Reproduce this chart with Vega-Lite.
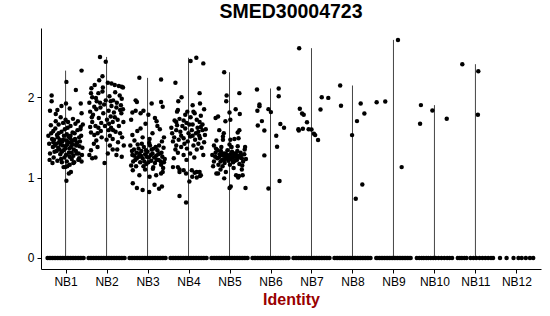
{
"$schema": "https://vega.github.io/schema/vega-lite/v6.json",
"width": 500, "height": 241,
"autosize": {"type": "none"},
"padding": {"left": 41, "top": 28, "right": 9, "bottom": 47},
"background": "white",
"config": {"view": {"stroke": null}, "font": "Liberation Sans"},
"title": {"text": "SMED30004723", "fontSize": 19.5, "fontWeight": "bold", "font": "Liberation Sans", "color": "black", "anchor": "middle", "offset": 6},
"data": {"values": [
{"g":"NB1","j":-0.40,"v":1.42},{"g":"NB1","j":-0.35,"v":1.55},{"g":"NB1","j":-0.31,"v":1.38},{"g":"NB1","j":-0.28,"v":1.47},{"g":"NB1","j":-0.25,"v":1.61},{"g":"NB1","j":-0.22,"v":1.33},{"g":"NB1","j":-0.19,"v":1.50},{"g":"NB1","j":-0.16,"v":1.44},{"g":"NB1","j":-0.13,"v":1.29},{"g":"NB1","j":-0.10,"v":1.57},{"g":"NB1","j":-0.07,"v":1.40},{"g":"NB1","j":-0.04,"v":1.52},{"g":"NB1","j":-0.01,"v":1.36},{"g":"NB1","j":0.02,"v":1.46},{"g":"NB1","j":0.05,"v":1.62},{"g":"NB1","j":0.08,"v":1.31},{"g":"NB1","j":0.11,"v":1.49},{"g":"NB1","j":0.14,"v":1.43},{"g":"NB1","j":0.17,"v":1.56},{"g":"NB1","j":0.20,"v":1.35},{"g":"NB1","j":0.23,"v":1.48},{"g":"NB1","j":0.26,"v":1.40},{"g":"NB1","j":0.29,"v":1.59},{"g":"NB1","j":0.32,"v":1.30},{"g":"NB1","j":0.35,"v":1.45},{"g":"NB1","j":0.38,"v":1.52},{"g":"NB1","j":0.41,"v":1.37},
{"g":"NB1","j":-0.38,"v":1.30},{"g":"NB1","j":-0.33,"v":1.48},{"g":"NB1","j":-0.29,"v":1.25},{"g":"NB1","j":-0.26,"v":1.40},{"g":"NB1","j":-0.21,"v":1.53},{"g":"NB1","j":-0.18,"v":1.37},{"g":"NB1","j":-0.14,"v":1.47},{"g":"NB1","j":-0.11,"v":1.23},{"g":"NB1","j":-0.08,"v":1.45},{"g":"NB1","j":-0.05,"v":1.34},{"g":"NB1","j":-0.02,"v":1.60},{"g":"NB1","j":0.01,"v":1.28},{"g":"NB1","j":0.04,"v":1.41},{"g":"NB1","j":0.07,"v":1.51},{"g":"NB1","j":0.10,"v":1.26},{"g":"NB1","j":0.13,"v":1.38},{"g":"NB1","j":0.16,"v":1.46},{"g":"NB1","j":0.19,"v":1.27},{"g":"NB1","j":0.22,"v":1.55},{"g":"NB1","j":0.25,"v":1.33},{"g":"NB1","j":0.28,"v":1.43},{"g":"NB1","j":0.31,"v":1.22},{"g":"NB1","j":0.34,"v":1.39},{"g":"NB1","j":0.37,"v":1.63},{"g":"NB1","j":0.40,"v":1.28},
{"g":"NB1","j":-0.42,"v":1.52},{"g":"NB1","j":-0.36,"v":1.65},{"g":"NB1","j":-0.30,"v":1.58},{"g":"NB1","j":-0.24,"v":1.70},{"g":"NB1","j":-0.17,"v":1.66},{"g":"NB1","j":-0.12,"v":1.75},{"g":"NB1","j":-0.06,"v":1.68},{"g":"NB1","j":0.00,"v":1.72},{"g":"NB1","j":0.06,"v":1.69},{"g":"NB1","j":0.12,"v":1.64},{"g":"NB1","j":0.18,"v":1.73},{"g":"NB1","j":0.24,"v":1.67},{"g":"NB1","j":0.30,"v":1.70},{"g":"NB1","j":0.36,"v":1.60},{"g":"NB1","j":0.42,"v":1.66},
{"g":"NB1","j":-0.39,"v":1.22},{"g":"NB1","j":-0.32,"v":1.18},{"g":"NB1","j":-0.27,"v":1.32},{"g":"NB1","j":-0.20,"v":1.21},{"g":"NB1","j":-0.15,"v":1.35},{"g":"NB1","j":-0.09,"v":1.19},{"g":"NB1","j":-0.03,"v":1.25},{"g":"NB1","j":0.03,"v":1.20},{"g":"NB1","j":0.09,"v":1.36},{"g":"NB1","j":0.15,"v":1.23},{"g":"NB1","j":0.21,"v":1.19},{"g":"NB1","j":0.27,"v":1.30},{"g":"NB1","j":0.33,"v":1.24},{"g":"NB1","j":0.39,"v":1.20},
{"g":"NB1","j":-0.23,"v":1.42},{"g":"NB1","j":-0.12,"v":1.41},{"g":"NB1","j":-0.06,"v":1.47},{"g":"NB1","j":0.00,"v":1.39},{"g":"NB1","j":0.07,"v":1.44},{"g":"NB1","j":0.12,"v":1.52},{"g":"NB1","j":0.18,"v":1.41},{"g":"NB1","j":-0.17,"v":1.55},{"g":"NB1","j":0.03,"v":1.54},{"g":"NB1","j":-0.09,"v":1.32},{"g":"NB1","j":0.15,"v":1.31},{"g":"NB1","j":0.24,"v":1.46},{"g":"NB1","j":-0.30,"v":1.44},{"g":"NB1","j":0.33,"v":1.50},
{"g":"NB1","j":-0.05,"v":1.13},{"g":"NB1","j":-0.01,"v":1.13},{"g":"NB1","j":0.04,"v":1.14},{"g":"NB1","j":0.10,"v":1.16},{"g":"NB1","j":0.19,"v":1.18},{"g":"NB1","j":0.13,"v":1.07},{"g":"NB1","j":0.02,"v":0.96},{"g":"NB1","j":0.08,"v":1.05},
{"g":"NB1","j":0.39,"v":2.33},{"g":"NB1","j":0.02,"v":2.19},{"g":"NB1","j":0.25,"v":2.09},{"g":"NB1","j":-0.34,"v":2.02},{"g":"NB1","j":-0.34,"v":1.95},{"g":"NB1","j":0.37,"v":1.92},{"g":"NB1","j":0.01,"v":1.92},{"g":"NB1","j":-0.10,"v":1.89},{"g":"NB1","j":-0.24,"v":1.79},{"g":"NB1","j":0.39,"v":1.80},{"g":"NB1","j":-0.20,"v":1.84},{"g":"NB1","j":0.10,"v":1.86},{"g":"NB1","j":-0.38,"v":1.83},
{"g":"NB2","j":-0.16,"v":2.50},{"g":"NB2","j":-0.02,"v":2.44},{"g":"NB2","j":-0.10,"v":2.26},{"g":"NB2","j":0.12,"v":2.17},{"g":"NB2","j":-0.29,"v":2.15},{"g":"NB2","j":0.37,"v":2.13},{"g":"NB2","j":0.03,"v":2.18},{"g":"NB2","j":0.20,"v":2.15},{"g":"NB2","j":0.30,"v":2.14},{"g":"NB2","j":-0.38,"v":2.05},{"g":"NB2","j":-0.35,"v":2.00},{"g":"NB2","j":-0.20,"v":2.05},{"g":"NB2","j":-0.10,"v":2.07},{"g":"NB2","j":-0.37,"v":2.11},{"g":"NB2","j":-0.18,"v":2.21},{"g":"NB2","j":0.16,"v":1.96},{"g":"NB2","j":0.37,"v":1.98},{"g":"NB2","j":0.40,"v":2.12},{"g":"NB2","j":0.25,"v":1.93},{"g":"NB2","j":-0.02,"v":1.96},
{"g":"NB2","j":-0.30,"v":1.88},{"g":"NB2","j":-0.40,"v":1.82},{"g":"NB2","j":-0.25,"v":1.85},{"g":"NB2","j":-0.15,"v":1.87},{"g":"NB2","j":0.24,"v":1.87},{"g":"NB2","j":0.36,"v":1.80},{"g":"NB2","j":0.33,"v":1.84},{"g":"NB2","j":0.10,"v":1.76},{"g":"NB2","j":0.20,"v":1.75},{"g":"NB2","j":0.15,"v":1.69},{"g":"NB2","j":-0.35,"v":1.69},{"g":"NB2","j":-0.40,"v":1.63},{"g":"NB2","j":-0.27,"v":1.64},{"g":"NB2","j":-0.13,"v":1.68},{"g":"NB2","j":0.41,"v":1.69},{"g":"NB2","j":0.30,"v":1.64},{"g":"NB2","j":-0.38,"v":1.56},{"g":"NB2","j":-0.22,"v":1.55},{"g":"NB2","j":-0.30,"v":1.53},{"g":"NB2","j":0.05,"v":1.59},{"g":"NB2","j":0.08,"v":1.52},{"g":"NB2","j":0.22,"v":1.57},{"g":"NB2","j":0.33,"v":1.55},{"g":"NB2","j":0.00,"v":1.47},{"g":"NB2","j":0.15,"v":1.48},{"g":"NB2","j":-0.22,"v":1.38},{"g":"NB2","j":-0.38,"v":1.34},{"g":"NB2","j":0.08,"v":1.40},{"g":"NB2","j":0.15,"v":1.35},{"g":"NB2","j":0.37,"v":1.26},{"g":"NB2","j":-0.35,"v":1.24},{"g":"NB2","j":-0.27,"v":1.25},{"g":"NB2","j":-0.05,"v":1.18},
{"g":"NB2","j":-0.33,"v":1.78},{"g":"NB2","j":-0.08,"v":1.80},{"g":"NB2","j":0.05,"v":1.83},{"g":"NB2","j":-0.19,"v":1.74},{"g":"NB2","j":0.27,"v":1.72},{"g":"NB2","j":-0.04,"v":1.64},{"g":"NB2","j":0.11,"v":1.62},{"g":"NB2","j":-0.25,"v":1.46},{"g":"NB2","j":0.28,"v":1.44},{"g":"NB2","j":-0.12,"v":1.50},{"g":"NB2","j":0.38,"v":1.50},{"g":"NB2","j":-0.06,"v":1.91},{"g":"NB2","j":0.12,"v":1.89},{"g":"NB2","j":-0.24,"v":1.95},{"g":"NB2","j":0.07,"v":2.01},{"g":"NB2","j":0.32,"v":2.02},{"g":"NB2","j":-0.42,"v":1.93},{"g":"NB2","j":0.18,"v":1.81},{"g":"NB2","j":-0.14,"v":1.58},{"g":"NB2","j":0.26,"v":1.35},{"g":"NB2","j":-0.31,"v":1.42},{"g":"NB2","j":0.42,"v":1.40},{"g":"NB2","j":0.01,"v":1.72},{"g":"NB2","j":-0.36,"v":1.75},{"g":"NB2","j":0.21,"v":2.06},{"g":"NB2","j":-0.09,"v":2.12},{"g":"NB2","j":0.10,"v":1.95},{"g":"NB2","j":-0.26,"v":1.99},{"g":"NB2","j":0.35,"v":1.90},{"g":"NB2","j":-0.16,"v":1.93},{"g":"NB2","j":0.03,"v":1.30},{"g":"NB2","j":0.24,"v":1.28},{"g":"NB2","j":-0.42,"v":1.28},{"g":"NB2","j":0.40,"v":1.85},{"g":"NB2","j":0.06,"v":1.67},{"g":"NB2","j":-0.20,"v":1.62},{"g":"NB2","j":0.16,"v":1.59},
{"g":"NB3","j":-0.20,"v":2.24},{"g":"NB3","j":0.33,"v":2.22},{"g":"NB3","j":-0.29,"v":1.96},{"g":"NB3","j":-0.26,"v":1.94},{"g":"NB3","j":0.10,"v":1.92},{"g":"NB3","j":0.33,"v":1.94},{"g":"NB3","j":0.37,"v":1.88},{"g":"NB3","j":-0.37,"v":1.81},{"g":"NB3","j":-0.29,"v":1.83},{"g":"NB3","j":-0.17,"v":1.80},{"g":"NB3","j":-0.10,"v":1.83},{"g":"NB3","j":0.02,"v":1.78},{"g":"NB3","j":0.18,"v":1.74},{"g":"NB3","j":0.22,"v":1.70},{"g":"NB3","j":0.24,"v":1.64},{"g":"NB3","j":-0.37,"v":1.53},{"g":"NB3","j":-0.17,"v":1.61},{"g":"NB3","j":0.30,"v":1.60},{"g":"NB3","j":-0.05,"v":1.67},{"g":"NB3","j":0.12,"v":1.55},{"g":"NB3","j":-0.25,"v":1.58},{"g":"NB3","j":0.40,"v":1.50},{"g":"NB3","j":-0.40,"v":1.72},{"g":"NB3","j":0.05,"v":1.48},{"g":"NB3","j":-0.12,"v":1.50},{"g":"NB3","j":0.35,"v":1.45},{"g":"NB3","j":-0.32,"v":1.46},
{"g":"NB3","j":-0.42,"v":1.40},{"g":"NB3","j":-0.37,"v":1.28},{"g":"NB3","j":-0.33,"v":1.35},{"g":"NB3","j":-0.30,"v":1.22},{"g":"NB3","j":-0.27,"v":1.31},{"g":"NB3","j":-0.24,"v":1.41},{"g":"NB3","j":-0.21,"v":1.26},{"g":"NB3","j":-0.18,"v":1.19},{"g":"NB3","j":-0.15,"v":1.33},{"g":"NB3","j":-0.12,"v":1.24},{"g":"NB3","j":-0.09,"v":1.38},{"g":"NB3","j":-0.06,"v":1.29},{"g":"NB3","j":-0.03,"v":1.17},{"g":"NB3","j":0.00,"v":1.32},{"g":"NB3","j":0.03,"v":1.25},{"g":"NB3","j":0.06,"v":1.40},{"g":"NB3","j":0.09,"v":1.21},{"g":"NB3","j":0.12,"v":1.30},{"g":"NB3","j":0.15,"v":1.36},{"g":"NB3","j":0.18,"v":1.18},{"g":"NB3","j":0.21,"v":1.27},{"g":"NB3","j":0.24,"v":1.34},{"g":"NB3","j":0.27,"v":1.22},{"g":"NB3","j":0.30,"v":1.30},{"g":"NB3","j":0.33,"v":1.16},{"g":"NB3","j":0.36,"v":1.26},{"g":"NB3","j":0.39,"v":1.37},{"g":"NB3","j":0.42,"v":1.23},
{"g":"NB3","j":-0.40,"v":1.15},{"g":"NB3","j":-0.35,"v":1.20},{"g":"NB3","j":-0.28,"v":1.14},{"g":"NB3","j":-0.22,"v":1.36},{"g":"NB3","j":-0.16,"v":1.27},{"g":"NB3","j":-0.10,"v":1.14},{"g":"NB3","j":-0.04,"v":1.34},{"g":"NB3","j":0.02,"v":1.19},{"g":"NB3","j":0.08,"v":1.28},{"g":"NB3","j":0.14,"v":1.13},{"g":"NB3","j":0.20,"v":1.38},{"g":"NB3","j":0.26,"v":1.29},{"g":"NB3","j":0.32,"v":1.20},{"g":"NB3","j":0.38,"v":1.12},
{"g":"NB3","j":-0.38,"v":1.33},{"g":"NB3","j":-0.26,"v":1.24},{"g":"NB3","j":-0.14,"v":1.42},{"g":"NB3","j":-0.02,"v":1.26},{"g":"NB3","j":0.10,"v":1.35},{"g":"NB3","j":0.22,"v":1.22},{"g":"NB3","j":0.34,"v":1.31},{"g":"NB3","j":-0.08,"v":1.20},{"g":"NB3","j":0.04,"v":1.43},{"g":"NB3","j":0.16,"v":1.25},{"g":"NB3","j":-0.20,"v":1.30},{"g":"NB3","j":0.28,"v":1.40},{"g":"NB3","j":-0.32,"v":1.27},{"g":"NB3","j":0.40,"v":1.19},
{"g":"NB3","j":-0.36,"v":1.09},{"g":"NB3","j":-0.20,"v":1.03},{"g":"NB3","j":0.05,"v":1.01},{"g":"NB3","j":0.21,"v":1.03},{"g":"NB3","j":0.33,"v":1.05},{"g":"NB3","j":0.37,"v":1.07},{"g":"NB3","j":-0.06,"v":1.10},{"g":"NB3","j":0.13,"v":1.11},
{"g":"NB3","j":-0.36,"v":0.93},{"g":"NB3","j":-0.26,"v":0.87},{"g":"NB3","j":-0.12,"v":0.845},{"g":"NB3","j":0.04,"v":0.82},{"g":"NB3","j":0.17,"v":0.91},{"g":"NB3","j":0.28,"v":0.86},{"g":"NB3","j":0.35,"v":0.89},
{"g":"NB4","j":0.05,"v":2.45},{"g":"NB4","j":0.19,"v":2.49},{"g":"NB4","j":0.36,"v":2.42},{"g":"NB4","j":-0.32,"v":2.18},{"g":"NB4","j":0.27,"v":2.05},{"g":"NB4","j":-0.17,"v":2.00},{"g":"NB4","j":0.28,"v":1.92},{"g":"NB4","j":-0.28,"v":1.82},{"g":"NB4","j":-0.26,"v":1.84},{"g":"NB4","j":-0.03,"v":1.82},{"g":"NB4","j":0.12,"v":1.82},{"g":"NB4","j":0.15,"v":1.80},{"g":"NB4","j":-0.34,"v":1.71},{"g":"NB4","j":-0.30,"v":1.69},{"g":"NB4","j":-0.22,"v":1.73},{"g":"NB4","j":-0.12,"v":1.71},{"g":"NB4","j":-0.05,"v":1.68},{"g":"NB4","j":0.20,"v":1.72},{"g":"NB4","j":0.27,"v":1.69},{"g":"NB4","j":0.34,"v":1.66},{"g":"NB4","j":0.30,"v":1.63},{"g":"NB4","j":-0.30,"v":1.59},{"g":"NB4","j":-0.20,"v":1.57},{"g":"NB4","j":-0.08,"v":1.61},{"g":"NB4","j":0.08,"v":1.59},{"g":"NB4","j":0.24,"v":1.57},{"g":"NB4","j":0.34,"v":1.59},{"g":"NB4","j":-0.35,"v":1.50},{"g":"NB4","j":-0.24,"v":1.47},{"g":"NB4","j":-0.12,"v":1.49},{"g":"NB4","j":0.04,"v":1.51},{"g":"NB4","j":0.16,"v":1.47},{"g":"NB4","j":0.28,"v":1.49},{"g":"NB4","j":-0.30,"v":1.40},{"g":"NB4","j":-0.18,"v":1.38},{"g":"NB4","j":-0.04,"v":1.36},{"g":"NB4","j":0.12,"v":1.40},{"g":"NB4","j":0.20,"v":1.35},{"g":"NB4","j":-0.26,"v":1.31},{"g":"NB4","j":-0.12,"v":1.28},{"g":"NB4","j":0.04,"v":1.30},{"g":"NB4","j":-0.22,"v":1.10},{"g":"NB4","j":-0.12,"v":1.09},{"g":"NB4","j":0.08,"v":1.09},{"g":"NB4","j":0.20,"v":1.07},{"g":"NB4","j":0.28,"v":1.02},{"g":"NB4","j":0.20,"v":1.00},
{"g":"NB4","j":-0.40,"v":1.55},{"g":"NB4","j":-0.38,"v":1.45},{"g":"NB4","j":0.40,"v":1.53},{"g":"NB4","j":0.38,"v":1.44},{"g":"NB4","j":0.00,"v":1.55},{"g":"NB4","j":-0.15,"v":1.64},{"g":"NB4","j":0.10,"v":1.66},{"g":"NB4","j":0.22,"v":1.62},{"g":"NB4","j":-0.28,"v":1.65},{"g":"NB4","j":0.05,"v":1.75},{"g":"NB4","j":-0.08,"v":1.78},{"g":"NB4","j":0.30,"v":1.77},{"g":"NB4","j":-0.42,"v":1.62},{"g":"NB4","j":0.42,"v":1.60},{"g":"NB4","j":-0.02,"v":1.45},{"g":"NB4","j":0.24,"v":1.42},{"g":"NB4","j":-0.32,"v":1.35},{"g":"NB4","j":0.32,"v":1.37},{"g":"NB4","j":0.14,"v":1.25},{"g":"NB4","j":-0.05,"v":1.22},{"g":"NB4","j":0.36,"v":1.28},{"g":"NB4","j":-0.36,"v":1.24},{"g":"NB4","j":0.10,"v":1.52},{"g":"NB4","j":-0.18,"v":1.52},{"g":"NB4","j":0.18,"v":1.55},{"g":"NB4","j":-0.10,"v":1.42},{"g":"NB4","j":0.02,"v":1.66},{"g":"NB4","j":0.26,"v":1.52},{"g":"NB4","j":-0.25,"v":1.95},{"g":"NB4","j":0.38,"v":1.85},{"g":"NB4","j":0.10,"v":1.90},
{"g":"NB4","j":-0.38,"v":1.13},{"g":"NB4","j":-0.26,"v":1.13},{"g":"NB4","j":-0.22,"v":1.07},{"g":"NB4","j":-0.06,"v":1.05},{"g":"NB4","j":0.02,"v":0.95},{"g":"NB4","j":0.09,"v":1.01},{"g":"NB4","j":0.15,"v":1.06},{"g":"NB4","j":0.27,"v":1.07},{"g":"NB4","j":0.30,"v":1.03},{"g":"NB4","j":-0.22,"v":0.77},{"g":"NB4","j":-0.06,"v":0.69},
{"g":"NB5","j":-0.13,"v":2.31},{"g":"NB5","j":0.24,"v":2.05},{"g":"NB5","j":-0.07,"v":2.02},{"g":"NB5","j":-0.08,"v":1.95},{"g":"NB5","j":0.15,"v":1.85},{"g":"NB5","j":0.00,"v":1.81},{"g":"NB5","j":0.25,"v":1.79},{"g":"NB5","j":-0.34,"v":1.74},{"g":"NB5","j":-0.28,"v":1.76},{"g":"NB5","j":0.02,"v":1.72},{"g":"NB5","j":-0.10,"v":1.70},{"g":"NB5","j":0.24,"v":1.59},{"g":"NB5","j":0.20,"v":1.56},{"g":"NB5","j":-0.25,"v":1.59},{"g":"NB5","j":-0.14,"v":1.55},{"g":"NB5","j":-0.16,"v":1.51},{"g":"NB5","j":-0.32,"v":1.46},{"g":"NB5","j":-0.16,"v":1.47},{"g":"NB5","j":0.02,"v":1.47},{"g":"NB5","j":0.12,"v":1.48},{"g":"NB5","j":0.22,"v":1.49},{"g":"NB5","j":-0.38,"v":1.40},{"g":"NB5","j":-0.33,"v":1.36},{"g":"NB5","j":-0.20,"v":1.38},{"g":"NB5","j":0.00,"v":1.41},{"g":"NB5","j":0.05,"v":1.38},{"g":"NB5","j":0.20,"v":1.39},{"g":"NB5","j":0.38,"v":1.38},
{"g":"NB5","j":-0.42,"v":1.28},{"g":"NB5","j":-0.38,"v":1.20},{"g":"NB5","j":-0.34,"v":1.31},{"g":"NB5","j":-0.30,"v":1.24},{"g":"NB5","j":-0.27,"v":1.16},{"g":"NB5","j":-0.24,"v":1.29},{"g":"NB5","j":-0.21,"v":1.33},{"g":"NB5","j":-0.18,"v":1.22},{"g":"NB5","j":-0.15,"v":1.27},{"g":"NB5","j":-0.12,"v":1.18},{"g":"NB5","j":-0.09,"v":1.30},{"g":"NB5","j":-0.06,"v":1.25},{"g":"NB5","j":-0.03,"v":1.21},{"g":"NB5","j":0.00,"v":1.28},{"g":"NB5","j":0.03,"v":1.23},{"g":"NB5","j":0.06,"v":1.32},{"g":"NB5","j":0.09,"v":1.19},{"g":"NB5","j":0.12,"v":1.26},{"g":"NB5","j":0.15,"v":1.30},{"g":"NB5","j":0.18,"v":1.22},{"g":"NB5","j":0.21,"v":1.27},{"g":"NB5","j":0.24,"v":1.17},{"g":"NB5","j":0.27,"v":1.31},{"g":"NB5","j":0.30,"v":1.24},{"g":"NB5","j":0.33,"v":1.20},{"g":"NB5","j":0.36,"v":1.29},{"g":"NB5","j":0.40,"v":1.23},
{"g":"NB5","j":-0.40,"v":1.14},{"g":"NB5","j":-0.35,"v":1.26},{"g":"NB5","j":-0.29,"v":1.34},{"g":"NB5","j":-0.22,"v":1.20},{"g":"NB5","j":-0.17,"v":1.14},{"g":"NB5","j":-0.11,"v":1.23},{"g":"NB5","j":-0.05,"v":1.34},{"g":"NB5","j":0.01,"v":1.16},{"g":"NB5","j":0.07,"v":1.25},{"g":"NB5","j":0.13,"v":1.21},{"g":"NB5","j":0.19,"v":1.33},{"g":"NB5","j":0.25,"v":1.25},{"g":"NB5","j":0.31,"v":1.15},{"g":"NB5","j":0.37,"v":1.35},
{"g":"NB5","j":-0.26,"v":1.25},{"g":"NB5","j":-0.08,"v":1.27},{"g":"NB5","j":0.04,"v":1.29},{"g":"NB5","j":0.10,"v":1.30},{"g":"NB5","j":-0.02,"v":1.24},{"g":"NB5","j":0.16,"v":1.26},{"g":"NB5","j":-0.14,"v":1.30},{"g":"NB5","j":0.08,"v":1.20},{"g":"NB5","j":-0.20,"v":1.28},{"g":"NB5","j":0.28,"v":1.28},
{"g":"NB5","j":-0.32,"v":1.05},{"g":"NB5","j":-0.28,"v":1.05},{"g":"NB5","j":-0.13,"v":0.99},{"g":"NB5","j":0.21,"v":1.00},{"g":"NB5","j":0.23,"v":1.02},{"g":"NB5","j":0.03,"v":0.89},{"g":"NB5","j":0.00,"v":0.87},{"g":"NB5","j":0.39,"v":0.87},{"g":"NB5","j":-0.09,"v":1.07},{"g":"NB5","j":0.16,"v":1.03},{"g":"NB5","j":0.32,"v":1.03},{"g":"NB5","j":-0.22,"v":1.10},{"g":"NB5","j":0.10,"v":1.12},{"g":"NB5","j":0.30,"v":1.10},
{"g":"NB6","j":-0.33,"v":2.096},{"g":"NB6","j":0.20,"v":2.108},{"g":"NB6","j":0.20,"v":2.012},{"g":"NB6","j":-0.27,"v":1.909},{"g":"NB6","j":-0.27,"v":1.888},{"g":"NB6","j":-0.32,"v":1.830},{"g":"NB6","j":-0.05,"v":1.851},{"g":"NB6","j":0.01,"v":1.814},{"g":"NB6","j":-0.21,"v":1.702},{"g":"NB6","j":-0.31,"v":1.648},{"g":"NB6","j":0.24,"v":1.665},{"g":"NB6","j":0.33,"v":1.619},{"g":"NB6","j":-0.15,"v":1.586},{"g":"NB6","j":0.14,"v":1.519},{"g":"NB6","j":0.16,"v":1.383},{"g":"NB6","j":-0.15,"v":1.276},{"g":"NB6","j":0.22,"v":0.957},{"g":"NB6","j":-0.05,"v":0.863},
{"g":"NB7","j":-0.30,"v":2.609},{"g":"NB7","j":-0.285,"v":1.855},{"g":"NB7","j":-0.23,"v":1.797},{"g":"NB7","j":-0.19,"v":1.780},{"g":"NB7","j":-0.11,"v":1.689},{"g":"NB7","j":-0.32,"v":1.602},{"g":"NB7","j":-0.31,"v":1.586},{"g":"NB7","j":-0.21,"v":1.606},{"g":"NB7","j":-0.07,"v":1.602},{"g":"NB7","j":0.00,"v":1.599},{"g":"NB7","j":0.06,"v":1.544},{"g":"NB7","j":0.09,"v":1.528},{"g":"NB7","j":0.16,"v":1.466},{"g":"NB7","j":0.22,"v":1.847},{"g":"NB7","j":0.25,"v":2.000},{"g":"NB7","j":0.41,"v":1.991},
{"g":"NB8","j":-0.30,"v":2.145},{"g":"NB8","j":-0.28,"v":1.892},{"g":"NB8","j":-0.01,"v":1.528},{"g":"NB8","j":0.11,"v":1.702},{"g":"NB8","j":0.20,"v":1.921},{"g":"NB8","j":0.29,"v":1.797},{"g":"NB8","j":0.24,"v":0.915},{"g":"NB8","j":0.08,"v":0.737},
{"g":"NB9","j":-0.41,"v":1.938},{"g":"NB9","j":-0.20,"v":1.947},{"g":"NB9","j":0.11,"v":2.712},{"g":"NB9","j":0.20,"v":1.130},
{"g":"NB10","j":-0.33,"v":1.901},{"g":"NB10","j":-0.05,"v":1.835},{"g":"NB10","j":-0.35,"v":1.668},{"g":"NB10","j":0.30,"v":1.731},
{"g":"NB11","j":-0.32,"v":2.41},{"g":"NB11","j":0.07,"v":2.323},{"g":"NB11","j":0.06,"v":1.780},
{"g":"NB1","j":-0.44,"v":0},{"g":"NB1","j":-0.40,"v":0},{"g":"NB1","j":-0.36,"v":0},{"g":"NB1","j":-0.32,"v":0},{"g":"NB1","j":-0.28,"v":0},{"g":"NB1","j":-0.24,"v":0},{"g":"NB1","j":-0.20,"v":0},{"g":"NB1","j":-0.16,"v":0},{"g":"NB1","j":-0.12,"v":0},{"g":"NB1","j":-0.08,"v":0},{"g":"NB1","j":-0.04,"v":0},{"g":"NB1","j":0.00,"v":0},{"g":"NB1","j":0.04,"v":0},{"g":"NB1","j":0.08,"v":0},{"g":"NB1","j":0.12,"v":0},{"g":"NB1","j":0.16,"v":0},{"g":"NB1","j":0.20,"v":0},{"g":"NB1","j":0.24,"v":0},{"g":"NB1","j":0.28,"v":0},{"g":"NB1","j":0.32,"v":0},{"g":"NB1","j":0.36,"v":0},{"g":"NB1","j":0.40,"v":0},{"g":"NB1","j":0.44,"v":0},
{"g":"NB2","j":-0.44,"v":0},{"g":"NB2","j":-0.40,"v":0},{"g":"NB2","j":-0.36,"v":0},{"g":"NB2","j":-0.32,"v":0},{"g":"NB2","j":-0.28,"v":0},{"g":"NB2","j":-0.24,"v":0},{"g":"NB2","j":-0.20,"v":0},{"g":"NB2","j":-0.16,"v":0},{"g":"NB2","j":-0.12,"v":0},{"g":"NB2","j":-0.08,"v":0},{"g":"NB2","j":-0.04,"v":0},{"g":"NB2","j":0.00,"v":0},{"g":"NB2","j":0.04,"v":0},{"g":"NB2","j":0.08,"v":0},{"g":"NB2","j":0.12,"v":0},{"g":"NB2","j":0.16,"v":0},{"g":"NB2","j":0.20,"v":0},{"g":"NB2","j":0.24,"v":0},{"g":"NB2","j":0.28,"v":0},{"g":"NB2","j":0.32,"v":0},{"g":"NB2","j":0.36,"v":0},{"g":"NB2","j":0.40,"v":0},{"g":"NB2","j":0.44,"v":0},
{"g":"NB3","j":-0.44,"v":0},{"g":"NB3","j":-0.40,"v":0},{"g":"NB3","j":-0.36,"v":0},{"g":"NB3","j":-0.32,"v":0},{"g":"NB3","j":-0.28,"v":0},{"g":"NB3","j":-0.24,"v":0},{"g":"NB3","j":-0.20,"v":0},{"g":"NB3","j":-0.16,"v":0},{"g":"NB3","j":-0.12,"v":0},{"g":"NB3","j":-0.08,"v":0},{"g":"NB3","j":-0.04,"v":0},{"g":"NB3","j":0.00,"v":0},{"g":"NB3","j":0.04,"v":0},{"g":"NB3","j":0.08,"v":0},{"g":"NB3","j":0.12,"v":0},{"g":"NB3","j":0.16,"v":0},{"g":"NB3","j":0.20,"v":0},{"g":"NB3","j":0.24,"v":0},{"g":"NB3","j":0.28,"v":0},{"g":"NB3","j":0.32,"v":0},{"g":"NB3","j":0.36,"v":0},{"g":"NB3","j":0.40,"v":0},{"g":"NB3","j":0.44,"v":0},
{"g":"NB4","j":-0.44,"v":0},{"g":"NB4","j":-0.40,"v":0},{"g":"NB4","j":-0.36,"v":0},{"g":"NB4","j":-0.32,"v":0},{"g":"NB4","j":-0.28,"v":0},{"g":"NB4","j":-0.24,"v":0},{"g":"NB4","j":-0.20,"v":0},{"g":"NB4","j":-0.16,"v":0},{"g":"NB4","j":-0.12,"v":0},{"g":"NB4","j":-0.08,"v":0},{"g":"NB4","j":-0.04,"v":0},{"g":"NB4","j":0.00,"v":0},{"g":"NB4","j":0.04,"v":0},{"g":"NB4","j":0.08,"v":0},{"g":"NB4","j":0.12,"v":0},{"g":"NB4","j":0.16,"v":0},{"g":"NB4","j":0.20,"v":0},{"g":"NB4","j":0.24,"v":0},{"g":"NB4","j":0.28,"v":0},{"g":"NB4","j":0.32,"v":0},{"g":"NB4","j":0.36,"v":0},{"g":"NB4","j":0.40,"v":0},{"g":"NB4","j":0.44,"v":0},
{"g":"NB5","j":-0.44,"v":0},{"g":"NB5","j":-0.40,"v":0},{"g":"NB5","j":-0.36,"v":0},{"g":"NB5","j":-0.32,"v":0},{"g":"NB5","j":-0.28,"v":0},{"g":"NB5","j":-0.24,"v":0},{"g":"NB5","j":-0.20,"v":0},{"g":"NB5","j":-0.16,"v":0},{"g":"NB5","j":-0.12,"v":0},{"g":"NB5","j":-0.08,"v":0},{"g":"NB5","j":-0.04,"v":0},{"g":"NB5","j":0.00,"v":0},{"g":"NB5","j":0.04,"v":0},{"g":"NB5","j":0.08,"v":0},{"g":"NB5","j":0.12,"v":0},{"g":"NB5","j":0.16,"v":0},{"g":"NB5","j":0.20,"v":0},{"g":"NB5","j":0.24,"v":0},{"g":"NB5","j":0.28,"v":0},{"g":"NB5","j":0.32,"v":0},{"g":"NB5","j":0.36,"v":0},{"g":"NB5","j":0.40,"v":0},{"g":"NB5","j":0.44,"v":0},
{"g":"NB6","j":-0.44,"v":0},{"g":"NB6","j":-0.40,"v":0},{"g":"NB6","j":-0.36,"v":0},{"g":"NB6","j":-0.32,"v":0},{"g":"NB6","j":-0.28,"v":0},{"g":"NB6","j":-0.24,"v":0},{"g":"NB6","j":-0.20,"v":0},{"g":"NB6","j":-0.16,"v":0},{"g":"NB6","j":-0.12,"v":0},{"g":"NB6","j":-0.08,"v":0},{"g":"NB6","j":-0.04,"v":0},{"g":"NB6","j":0.00,"v":0},{"g":"NB6","j":0.04,"v":0},{"g":"NB6","j":0.08,"v":0},{"g":"NB6","j":0.12,"v":0},{"g":"NB6","j":0.16,"v":0},{"g":"NB6","j":0.20,"v":0},{"g":"NB6","j":0.24,"v":0},{"g":"NB6","j":0.28,"v":0},{"g":"NB6","j":0.32,"v":0},{"g":"NB6","j":0.36,"v":0},{"g":"NB6","j":0.40,"v":0},{"g":"NB6","j":0.44,"v":0},
{"g":"NB7","j":-0.44,"v":0},{"g":"NB7","j":-0.40,"v":0},{"g":"NB7","j":-0.36,"v":0},{"g":"NB7","j":-0.32,"v":0},{"g":"NB7","j":-0.28,"v":0},{"g":"NB7","j":-0.24,"v":0},{"g":"NB7","j":-0.20,"v":0},{"g":"NB7","j":-0.16,"v":0},{"g":"NB7","j":-0.12,"v":0},{"g":"NB7","j":-0.08,"v":0},{"g":"NB7","j":-0.04,"v":0},{"g":"NB7","j":0.00,"v":0},{"g":"NB7","j":0.04,"v":0},{"g":"NB7","j":0.08,"v":0},{"g":"NB7","j":0.12,"v":0},{"g":"NB7","j":0.16,"v":0},{"g":"NB7","j":0.20,"v":0},{"g":"NB7","j":0.24,"v":0},{"g":"NB7","j":0.28,"v":0},{"g":"NB7","j":0.32,"v":0},{"g":"NB7","j":0.36,"v":0},{"g":"NB7","j":0.40,"v":0},{"g":"NB7","j":0.44,"v":0},
{"g":"NB8","j":-0.44,"v":0},{"g":"NB8","j":-0.40,"v":0},{"g":"NB8","j":-0.36,"v":0},{"g":"NB8","j":-0.32,"v":0},{"g":"NB8","j":-0.28,"v":0},{"g":"NB8","j":-0.24,"v":0},{"g":"NB8","j":-0.20,"v":0},{"g":"NB8","j":-0.16,"v":0},{"g":"NB8","j":-0.12,"v":0},{"g":"NB8","j":-0.08,"v":0},{"g":"NB8","j":-0.04,"v":0},{"g":"NB8","j":0.00,"v":0},{"g":"NB8","j":0.04,"v":0},{"g":"NB8","j":0.08,"v":0},{"g":"NB8","j":0.12,"v":0},{"g":"NB8","j":0.16,"v":0},{"g":"NB8","j":0.20,"v":0},{"g":"NB8","j":0.24,"v":0},{"g":"NB8","j":0.28,"v":0},{"g":"NB8","j":0.32,"v":0},{"g":"NB8","j":0.36,"v":0},{"g":"NB8","j":0.40,"v":0},{"g":"NB8","j":0.44,"v":0},
{"g":"NB9","j":-0.42,"v":0},{"g":"NB9","j":-0.38,"v":0},{"g":"NB9","j":-0.34,"v":0},{"g":"NB9","j":-0.30,"v":0},{"g":"NB9","j":-0.26,"v":0},{"g":"NB9","j":-0.22,"v":0},{"g":"NB9","j":-0.18,"v":0},{"g":"NB9","j":-0.14,"v":0},{"g":"NB9","j":-0.10,"v":0},{"g":"NB9","j":-0.06,"v":0},{"g":"NB9","j":-0.02,"v":0},{"g":"NB9","j":0.02,"v":0},{"g":"NB9","j":0.06,"v":0},{"g":"NB9","j":0.10,"v":0},{"g":"NB9","j":0.14,"v":0},{"g":"NB9","j":0.18,"v":0},{"g":"NB9","j":0.22,"v":0},{"g":"NB9","j":0.26,"v":0},{"g":"NB9","j":0.30,"v":0},{"g":"NB9","j":0.34,"v":0},{"g":"NB9","j":0.38,"v":0},{"g":"NB9","j":0.42,"v":0},
{"g":"NB10","j":-0.43,"v":0},{"g":"NB10","j":-0.37,"v":0},{"g":"NB10","j":-0.31,"v":0},{"g":"NB10","j":-0.26,"v":0},{"g":"NB10","j":-0.20,"v":0},{"g":"NB10","j":-0.15,"v":0},{"g":"NB10","j":-0.09,"v":0},{"g":"NB10","j":-0.03,"v":0},{"g":"NB10","j":0.03,"v":0},{"g":"NB10","j":0.10,"v":0},{"g":"NB10","j":0.17,"v":0},{"g":"NB10","j":0.24,"v":0},{"g":"NB10","j":0.31,"v":0},{"g":"NB10","j":0.37,"v":0},{"g":"NB10","j":0.43,"v":0},
{"g":"NB11","j":-0.43,"v":0},{"g":"NB11","j":-0.38,"v":0},{"g":"NB11","j":-0.33,"v":0},{"g":"NB11","j":-0.27,"v":0},{"g":"NB11","j":-0.22,"v":0},{"g":"NB11","j":-0.12,"v":0},{"g":"NB11","j":-0.05,"v":0},{"g":"NB11","j":0.02,"v":0},{"g":"NB11","j":0.10,"v":0},{"g":"NB11","j":0.17,"v":0},{"g":"NB11","j":0.24,"v":0},{"g":"NB11","j":0.31,"v":0},{"g":"NB11","j":0.38,"v":0},{"g":"NB11","j":0.43,"v":0},
{"g":"NB12","j":-0.40,"v":0},{"g":"NB12","j":-0.24,"v":0},{"g":"NB12","j":-0.07,"v":0},{"g":"NB12","j":0.05,"v":0},{"g":"NB12","j":0.13,"v":0},{"g":"NB12","j":0.23,"v":0},{"g":"NB12","j":0.33,"v":0},{"g":"NB12","j":0.41,"v":0}
]},
"encoding": {
  "x": {"field": "g", "type": "nominal",
    "scale": {"type": "point", "padding": 0.6, "domain": ["NB1","NB2","NB3","NB4","NB5","NB6","NB7","NB8","NB9","NB10","NB11","NB12"]},
    "axis": {"title": "Identity", "titleFont": "Liberation Sans", "titleFontSize": 16, "titleFontWeight": "bold", "titleColor": "#990000", "titlePadding": 4,
      "labelAngle": 0, "labelFont": "Liberation Sans", "labelFontSize": 12, "labelColor": "black", "labelPadding": 3,
      "domainColor": "black", "domainWidth": 1, "tickColor": "black", "tickSize": 4, "grid": false}}
},
"layer": [
  {"mark": {"type": "rule", "color": "#444", "strokeWidth": 1},
   "encoding": {
     "y": {"aggregate": "min", "field": "v", "type": "quantitative",
       "scale": {"domain": [-0.137, 2.86], "nice": false, "zero": false},
       "axis": {"title": null, "values": [0, 1, 2], "format": "d", "labelFont": "Liberation Sans", "labelFontSize": 12, "labelColor": "black", "labelPadding": 3, "domainColor": "black", "domainWidth": 1, "tickColor": "black", "tickSize": 4, "grid": false}},
     "y2": {"aggregate": "max", "field": "v"}}},
  {"mark": {"type": "point", "filled": true, "size": 20, "color": "black", "opacity": 1, "strokeWidth": 0},
   "encoding": {
     "y": {"field": "v", "type": "quantitative"},
     "xOffset": {"field": "j", "type": "quantitative", "scale": {"domain": [-1, 1], "range": [-41, 41]}}}}
]
}
